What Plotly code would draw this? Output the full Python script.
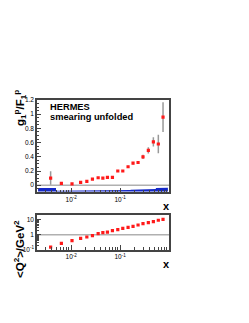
import numpy as np
import plotly.graph_objects as go

# ---- data ----
x_vals = [0.0038, 0.0063, 0.0104, 0.0156, 0.0209, 0.0272, 0.0356, 0.0444, 0.0551, 0.0697,
          0.0897, 0.1135, 0.1456, 0.184, 0.233, 0.294, 0.378, 0.479, 0.605, 0.755]
g1_over_f1 = [0.10, 0.025, 0.02, 0.04, 0.055, 0.085, 0.105, 0.10, 0.11, 0.11,
              0.20, 0.20, 0.26, 0.31, 0.32, 0.40, 0.49, 0.61, 0.58, 0.96]
stat_err = [0.095, 0.012, 0.01, 0.01, 0.01, 0.01, 0.01, 0.01, 0.01, 0.01,
            0.012, 0.013, 0.015, 0.018, 0.022, 0.03, 0.045, 0.065, 0.13, 0.21]
syst_err = [0.05, 0.012, 0.012, 0.012, 0.012, 0.012, 0.015, 0.015, 0.015, 0.018,
            0.02, 0.022, 0.022, 0.025, 0.025, 0.028, 0.03, 0.035, 0.05, 0.055]
q2_vals = [0.15, 0.26, 0.40, 0.57, 0.70, 0.86, 1.17, 1.36, 1.5, 1.85,
           2.15, 2.6, 3.1, 3.6, 4.4, 5.4, 6.3, 7.4, 9.1, 10.6]
band_base = -0.09
edge_lo, edge_hi = 0.0021, 0.95

# ---- figure ----
W, H = 249, 323
fig = go.Figure()

red = "#ff1a1a"
# systematic band (step polygon)
lx = np.log10(x_vals)
mids = list(10 ** ((lx[:-1] + lx[1:]) / 2))
edges = [edge_lo] + mids + [edge_hi]
bx, by = [], []
for i, s in enumerate(syst_err):
    bx += [edges[i], edges[i + 1]]
    by += [band_base + s, band_base + s]
bx = bx + [edges[-1], edges[0]]
by = by + [band_base, band_base]
fig.add_trace(go.Scatter(x=bx, y=by, mode="lines", fill="toself", fillcolor="#1428c8",
                         line=dict(color="#1428c8", width=0), xaxis="x", yaxis="y",
                         showlegend=False, hoverinfo="skip"))

fig.add_trace(go.Scatter(x=x_vals, y=g1_over_f1, mode="markers",
                         marker=dict(symbol="square", size=3.2, color=red),
                         error_y=dict(type="data", array=stat_err, color="#999999", thickness=1.5, width=0),
                         xaxis="x", yaxis="y", showlegend=False))
fig.add_trace(go.Scatter(x=x_vals, y=q2_vals, mode="markers",
                         marker=dict(symbol="square", size=3.2, color=red),
                         xaxis="x2", yaxis="y2", showlegend=False))

xdom = [29 / W, 161 / W]
top_dom = [(H - 184.3) / H, (H - 92) / H]
bot_dom = [(H - 241.7) / H, (H - 206.7) / H]

minor_x = [m * 10.0 ** e for e in (-3, -2, -1) for m in range(2, 10)]
minor_x = [v for v in minor_x if 0.002 <= v <= 1]
minor_y2 = [m * 10.0 ** e for e in (-1, 0, 1) for m in range(2, 10)]
minor_y2 = [v for v in minor_y2 if v <= 21]

tickfont = dict(family="Liberation Sans, Arial", size=6.5, color="black")
frame = dict(showline=True, linecolor="#444444", linewidth=1.5, mirror=True,
             ticks="inside", tickcolor="#444444", showgrid=False, zeroline=False,
             tickfont=tickfont, automargin=False)

xaxis_common = dict(type="log", range=[np.log10(0.002), 0.0], domain=xdom,
                    tickvals=[0.01, 0.1], ticktext=["10<sup>-2</sup>", "10<sup>-1</sup>"],
                    ticklen=5, minor=dict(tickvals=minor_x, ticklen=2.5, ticks="inside",
                                          tickcolor="#444444"), **frame)

fig.update_layout(
    width=W, height=H, autosize=False,
    margin=dict(l=0, r=0, t=0, b=0),
    paper_bgcolor="white", plot_bgcolor="white",
    xaxis=dict(anchor="y", **xaxis_common),
    yaxis=dict(domain=top_dom, range=[-0.1, 1.2], anchor="x",
               tickvals=[0, 0.2, 0.4, 0.6, 0.8, 1.0, 1.2], ticktext=["0", "0.2", "0.4", "0.6", "0.8", "1", "1.2"],
               ticklen=4, minor=dict(dtick=0.05, ticklen=2, ticks="inside", tickcolor="#444444"), **frame),
    xaxis2=dict(anchor="y2", **xaxis_common),
    yaxis2=dict(domain=bot_dom, type="log", range=[-1, 1.33], anchor="x2",
                tickvals=[0.1, 1, 10], ticktext=["10<sup>-1</sup>", "1", "10"], ticklen=4,
                minor=dict(tickvals=minor_y2, ticklen=2, ticks="inside", tickcolor="#444444"), **frame),
    shapes=[
        dict(type="line", xref="x domain", yref="y", x0=0, x1=1, y0=0, y1=0,
             line=dict(color="#b0b0b0", width=1.5), layer="below"),
        dict(type="line", xref="x2 domain", yref="y2", x0=0, x1=1, y0=1, y1=1,
             line=dict(color="#b0b0b0", width=1.5), layer="below"),
    ],
)

bold = "Liberation Sans, Arial"
ann = [
    dict(text="<b>HERMES</b>", x=40 / W, y=1 - 99 / H, xanchor="left", yanchor="middle",
         font=dict(family=bold, size=9.3, color="black")),
    dict(text="<b>smearing unfolded</b>", x=40 / W, y=1 - 109.5 / H, xanchor="left", yanchor="middle",
         font=dict(family=bold, size=9.3, color="black")),
    dict(text="<b>g<sub>1</sub><sup>p</sup>/F<sub>1</sub><sup>p</sup></b>", x=12 / W, y=1 - 100 / H,
         xanchor="center", yanchor="middle", textangle=-90,
         font=dict(family=bold, size=11.5, color="black")),
    dict(text="<b><Q<sup>2</sup>>/GeV<sup>2</sup></b>", x=11 / W, y=1 - 241 / H,
         xanchor="center", yanchor="middle", textangle=-90,
         font=dict(family=bold, size=11.5, color="black")),
    dict(text="<b>x</b>", x=158.7 / W, y=1 - 198 / H, xanchor="center", yanchor="middle",
         font=dict(family=bold, size=11, color="black")),
    dict(text="<b>x</b>", x=158.7 / W, y=1 - 256 / H, xanchor="center", yanchor="middle",
         font=dict(family=bold, size=11, color="black")),
]
for a in ann:
    a.update(xref="paper", yref="paper", showarrow=False)
fig.update_layout(annotations=ann)

fig.write_html("out.html")
